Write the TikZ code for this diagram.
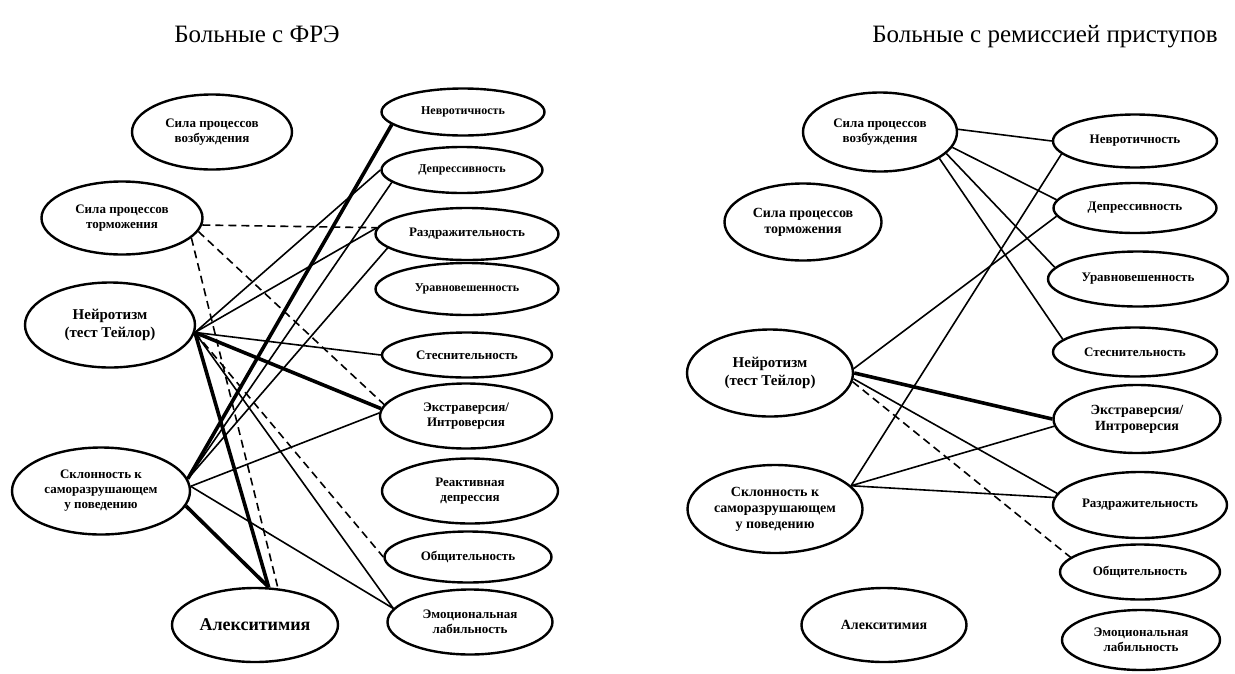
\documentclass[tikz,border=0pt]{standalone}
\usepackage{fontspec}
\setmainfont{Liberation Serif}
\usetikzlibrary{shapes.geometric}
\tikzset{
  oval/.style={draw, ellipse, line width=2.4pt, inner sep=0pt, align=center, font=\bfseries\fontsize{13}{15}\selectfont},
  sz/.style 2 args={minimum width=#1, minimum height=#2},
  smalltxt/.style={font=\bfseries\fontsize{12}{14}\selectfont},
  bigtxt/.style={font=\bfseries\fontsize{14}{16}\selectfont},
  title/.style={font=\fontsize{25}{28}\selectfont, anchor=base},
  link/.style={line width=1.6pt},
  strong/.style={line width=3.6pt},
  weak/.style={line width=1.6pt, dash pattern=on 8pt off 5pt},
}

\begin{document}
\begin{tikzpicture}[x=1pt, y=-1pt]
  \useasboundingbox (0,0) rectangle (1235,673);
  \node[title] (ltitle) at (257,42) {Больные с ФРЭ};
  \node[title] (rtitle) at (1045,42) {Больные с ремиссией приступов};

  \node[oval, sz={160}{75}] (lvozb) at (212,132) {Сила процессов\\возбуждения};
  \node[oval, sz={161}{73}] (ltorm) at (122,218) {Сила процессов\\торможения};
  \node[oval, sz={170}{85}, font=\bfseries\fontsize{15}{18}\selectfont] (lneur) at (110,325) {Нейротизм\\(тест Тейлор)};
  \node[oval, sz={178}{87}] (lsklon) at (101,491) {Склонность к\\саморазрушающем\\у поведению};
  \node[oval, sz={166}{74}, font=\bfseries\fontsize{18}{20}\selectfont] (lalex) at (255,625) {Алекситимия};
  \node[oval, sz={163}{47}, smalltxt] (lnevr) at (463,112) {Невротичность};
  \node[oval, sz={161}{46}, smalltxt] (ldepr) at (462,170) {Депрессивность};
  \node[oval, sz={183}{52}] (lrazd) at (467,234) {Раздражительность};
  \node[oval, sz={183}{52}, smalltxt] (lurav) at (467,289) {Уравновешенность};
  \node[oval, sz={170}{45}] (lstesn) at (467,355) {Стеснительность};
  \node[oval, sz={172}{65}] (lextr) at (466,416) {Экстраверсия/\\Интроверсия};
  \node[oval, sz={176}{65}] (lreakt) at (470,491) {Реактивная\\депрессия};
  \node[oval, sz={167}{51}] (lobsch) at (468,557) {Общительность};
  \node[oval, sz={165}{65}] (lemo) at (470,622) {Эмоциональная\\лабильность};

  \draw[weak] (ltorm.-5) -- (lrazd.176);
  \draw[weak] (ltorm.-10) -- (lextr.172);
  \draw[weak] (ltorm.-16) -- (lalex.58);
  \draw[link] (lneur.-5) -- (ldepr.180);
  \draw[link] (lneur.-5) -- (lrazd.176);
  \draw[link] (lneur.-5) -- (lstesn.180);
  \draw[strong] (lneur.-5) -- (lextr.175);
  \draw[strong] (lneur.-5) -- (lalex.70);
  \draw[link] (lneur.-5) -- (lemo.170);
  \draw[weak] (lneur.-5) -- (lobsch.180);
  \draw[strong] (lsklon.8) -- (lnevr.190);
  \draw[link] (lsklon.8) -- (ldepr.190);
  \draw[link] (lsklon.8) -- (lrazd.190);
  \draw[link] (lsklon.3) -- (lextr.178);
  \draw[link] (lsklon.3) -- (lemo.170);
  \draw[strong] (lsklon.-10) -- (lalex.70);

  \node[oval, sz={154}{79}] (rvozb) at (880,132) {Сила процессов\\возбуждения};
  \node[oval, sz={157}{77}, bigtxt] (rtorm) at (803,222) {Сила процессов\\торможения};
  \node[oval, sz={166}{87}, font=\bfseries\fontsize{15}{18}\selectfont] (rneur) at (770,373) {Нейротизм\\(тест Тейлор)};
  \node[oval, sz={175}{88}, bigtxt] (rsklon) at (775,509) {Склонность к\\саморазрушающем\\у поведению};
  \node[oval, sz={165}{74}, bigtxt] (ralex) at (884,625) {Алекситимия};
  \node[oval, sz={164}{53}] (rnevr) at (1135,141) {Невротичность};
  \node[oval, sz={163}{50}] (rdepr) at (1135,208) {Депрессивность};
  \node[oval, sz={180}{55}] (rurav) at (1138,279) {Уравновешенность};
  \node[oval, sz={164}{49}] (rstesn) at (1135,352) {Стеснительность};
  \node[oval, sz={167}{68}, bigtxt] (rextr) at (1137,419) {Экстраверсия/\\Интроверсия};
  \node[oval, sz={174}{66}] (rrazd) at (1140,505) {Раздражительность};
  \node[oval, sz={160}{55}] (robsch) at (1140,572) {Общительность};
  \node[oval, sz={158}{60}] (remo) at (1141,640) {Эмоциональная\\лабильность};

  \draw[link] (rvozb.2) -- (rnevr.180);
  \draw[link] (rvozb.-12) -- (rdepr.174);
  \draw[link] (rvozb.-18) -- (rurav.172);
  \draw[link] (rvozb.-24) -- (rstesn.170);
  \draw[link] (rneur.3) -- (rdepr.186);
  \draw[strong] (rneur.0) -- (rextr.180);
  \draw[link] (rneur.-4) -- (rrazd.172);
  \draw[weak] (rneur.-6) -- (robsch.168);
  \draw[link] (rsklon.17) -- (rnevr.190);
  \draw[link] (rsklon.17) -- (rextr.185);
  \draw[link] (rsklon.17) -- (rrazd.175);
\end{tikzpicture}
\end{document}
